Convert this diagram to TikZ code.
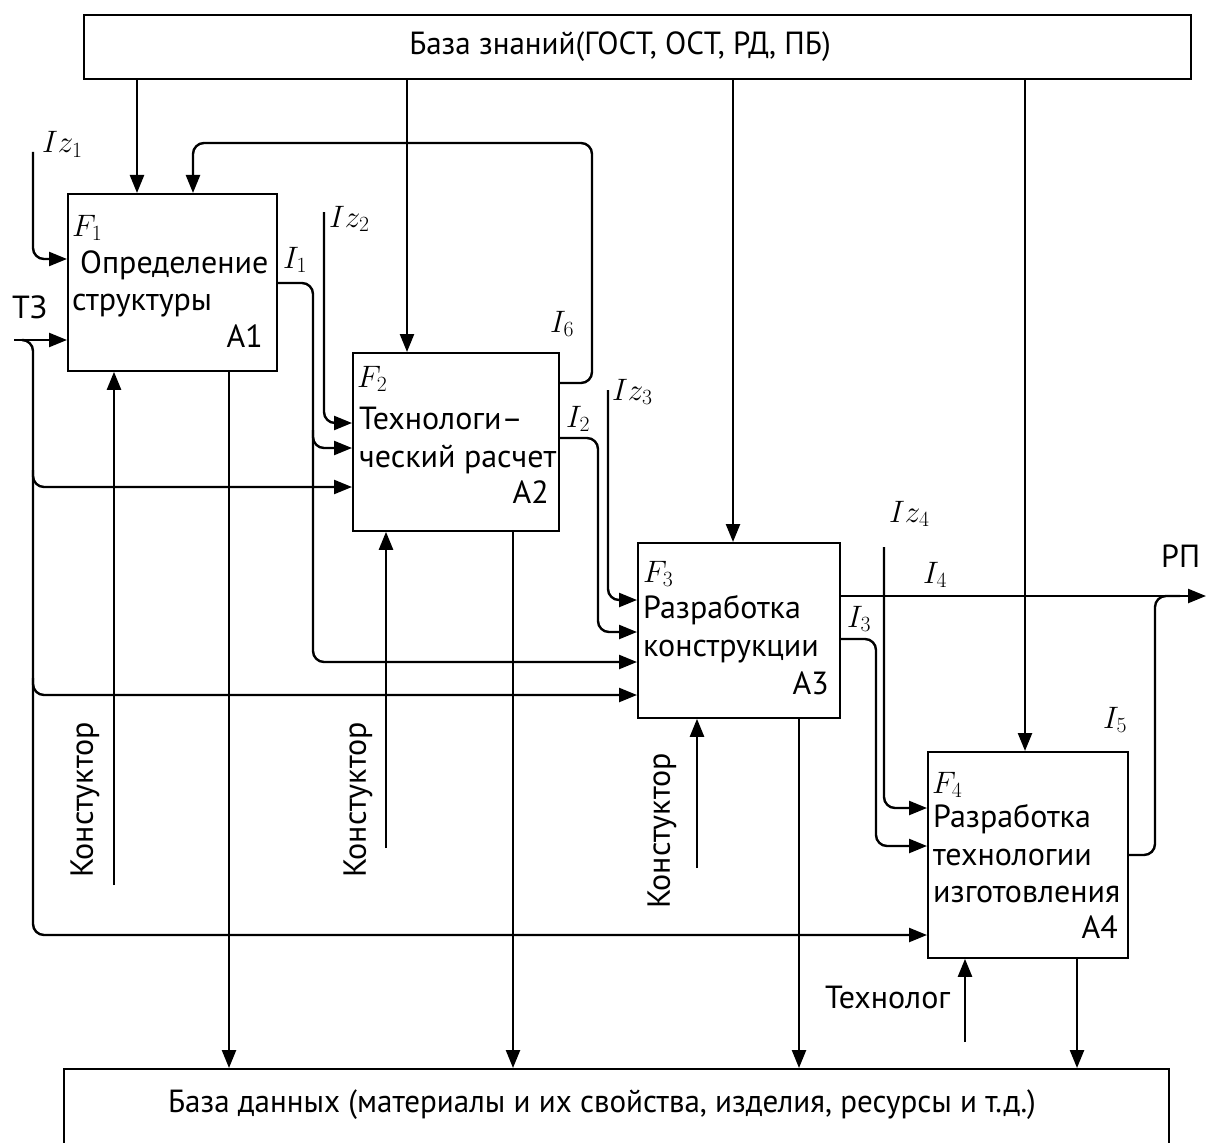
\documentclass[tikz,border=0pt]{standalone}
\usepackage{fix-cm}
\usepackage{fontspec}
\setmainfont{PT Sans}
\newfontfamily\narrowfont[FakeStretch=0.97]{PT Sans}
\usetikzlibrary{arrows.meta, positioning, calc}
\newcommand{\blkfont}{\fontsize{32}{38}\selectfont}
\newcommand{\lblfont}{\fontsize{31}{36}\selectfont}
\tikzset{
  blk/.style={draw, line width=1.8pt, anchor=north west, inner sep=0pt},
  ln/.style={line width=2.4pt},
  arr/.style={ln, -{Triangle[length=18pt, width=14pt]}},
  rc/.style={rounded corners=11pt},
  txt/.style={font=\blkfont, anchor=base west, inner sep=0pt},
  mlbl/.style={font=\lblfont, anchor=base west, inner sep=0pt},
}

\begin{document}
\begin{tikzpicture}[x=1pt, y=-1pt]
    \useasboundingbox (0,0) rectangle (1206,1142);
    % knowledge base and data base
    \node[blk, minimum width=1107pt, minimum height=64pt] (kb) at (83,14) {};
    \node[font=\narrowfont\blkfont] (kbt) at (620,47) {База знаний(ГОСТ, ОСТ, РД, ПБ)};
    \node[blk, minimum width=1105pt, minimum height=76pt] (db) at (63,1068) {};
    \node[font=\narrowfont\blkfont] (dbt) at (602,1105) {База данных (материалы и их свойства, изделия, ресурсы и т.д.)};

    % function blocks
    \node[blk, minimum width=209pt, minimum height=177pt] (a1) at (67,193) {};
    \node[blk, minimum width=206pt, minimum height=178pt] (a2) at (352,352) {};
    \node[blk, minimum width=202pt, minimum height=175pt] (a3) at (637,542) {};
    \node[blk, minimum width=200pt, minimum height=206pt] (a4) at (927,751) {};

    \node[mlbl] (f1) at (72,236) {$F_1$};
    \node[txt] (a1l1) at (80,273) {Определение};
    \node[txt] (a1l2) at (72,310) {структуры};
    \node[txt, anchor=base east] (a1n) at (263,347) {А1};

    \node[mlbl] (f2) at (357,387) {$F_2$};
    \node[txt] (a2l1) at (359,429) {Технологи–};
    \node[txt] (a2l2) at (359,467) {ческий расчет};
    \node[txt, anchor=base east] (a2n) at (549,503) {А2};

    \node[mlbl] (f3) at (643,582) {$F_3$};
    \node[txt] (a3l1) at (643,618) {Разработка};
    \node[txt] (a3l2) at (643,656) {конструкции};
    \node[txt, anchor=base east] (a3n) at (829,694) {А3};

    \node[mlbl] (f4) at (932,793) {$F_4$};
    \node[txt] (a4l1) at (933,827) {Разработка};
    \node[txt] (a4l2) at (933,865) {технологии};
    \node[txt] (a4l3) at (933,902) {изготовления};
    \node[txt, anchor=base east] (a4n) at (1118,938) {А4};

    % controls from knowledge base
    \foreach \xx/\blk in {137/a1, 407/a2, 733/a3, 1025/a4} {
      \coordinate (k) at (\xx,0);
      \draw[arr] (kb.south -| k) -- (\blk.north -| k);
    }

    % outputs to data base
    \foreach \xx/\blk in {229/a1, 513/a2, 799/a3, 1077/a4} {
      \coordinate (o) at (\xx,0);
      \draw[arr] (\blk.south -| o) -- (db.north -| o);
    }

    % mechanisms
    \coordinate (m1) at (114,885);
    \coordinate (m2) at (386,848);
    \coordinate (m3) at (697,868);
    \coordinate (m4) at (965,1042);
    \draw[arr] (m1) -- (a1.south -| m1);
    \draw[arr] (m2) -- (a2.south -| m2);
    \draw[arr] (m3) -- (a3.south -| m3);
    \draw[arr] (m4) -- (a4.south -| m4);
    \node[font=\blkfont, rotate=90] (k1) at (85,800) {Констуктор};
    \node[font=\blkfont, rotate=90] (k2) at (358,800) {Констуктор};
    \node[font=\blkfont, rotate=90] (k3) at (662,831) {Констуктор};
    \node[font=\blkfont, anchor=base west, inner sep=0pt] (tl) at (825,1008) {Технолог};

    % external inputs
    \coordinate (iz1) at (33,152);
    \coordinate (iz2) at (324,212);
    \coordinate (iz3) at (608,390);
    \coordinate (iz4) at (884,547);
    \draw[arr, rc] (iz1) |- (a1.west |- 0,259);
    \draw[arr, rc] (iz2) |- (a2.west |- 0,423);
    \draw[arr, rc] (iz3) |- (a3.west |- 0,600);
    \draw[arr, rc] (iz4) |- (a4.west |- 0,808);
    \node[mlbl] (liz1) at (42,153) {$Iz_1$};
    \node[mlbl] (liz2) at (329,227) {$Iz_2$};
    \node[mlbl] (liz3) at (612,400) {$Iz_3$};
    \node[mlbl] (liz4) at (889,522) {$Iz_4$};

    % T3 input and its branches
    \coordinate (tz) at (14,340);
    \node[font=\blkfont, anchor=base west, inner sep=0pt] (ltz) at (12,318) {ТЗ};
    \draw[arr] (tz) -- (a1.west |- tz);
    \draw[arr, rc] (24,340) -| (33,935) -- (a4.west |- 0,935);
    \draw[arr, rc] (33,470) |- (a2.west |- 0,487);
    \draw[arr, rc] (33,678) |- (a3.west |- 0,695);

    % links between blocks
    \draw[arr, rc] (a1.east |- 0,283) -| (313,662) -- (a3.west |- 0,662);
    \draw[arr, rc] (313,430) |- (a2.west |- 0,448);
    \draw[arr, rc] (a2.east |- 0,383) -| (592,143) -| (a1.north -| 193,0);
    \draw[arr, rc] (a2.east |- 0,438) -| (598,632) -- (a3.west |- 0,632);
    \draw[arr, rc] (a3.east |- 0,639) -| (876,846) -- (a4.west |- 0,846);
    \coordinate (rp) at (1206,596);
    \draw[arr] (a3.east |- rp) -- (rp);
    \draw[ln, rc] (a4.east |- 0,855) -| (1155,596) -- (1180,596);

    \node[mlbl] (li1) at (283,268) {$I_1$};
    \node[mlbl] (li2) at (566,427) {$I_2$};
    \node[mlbl] (li3) at (847,627) {$I_3$};
    \node[mlbl] (li4) at (923,583) {$I_4$};
    \node[mlbl] (li5) at (1103,728) {$I_5$};
    \node[mlbl] (li6) at (550,332) {$I_6$};
    \node[font=\blkfont, anchor=base west, inner sep=0pt] (lrp) at (1161,567) {РП};
\end{tikzpicture}
\end{document}
